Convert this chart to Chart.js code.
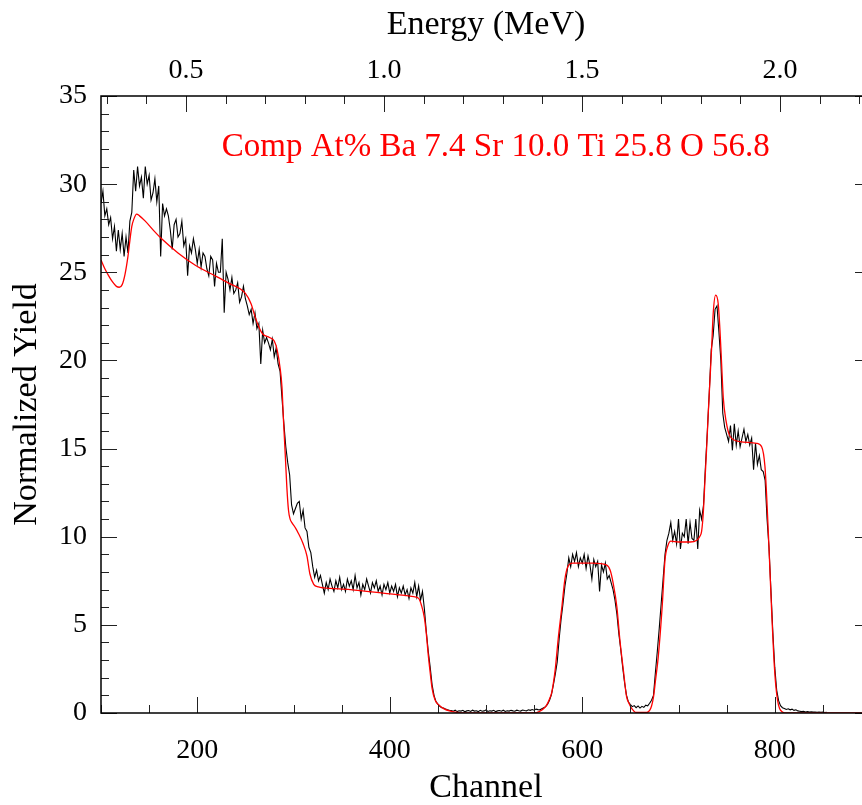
<!DOCTYPE html>
<html>
<head>
<meta charset="utf-8">
<title>RBS spectrum</title>
<script src="https://cdn.jsdelivr.net/npm/chart.js@4/dist/chart.umd.min.js"></script>
<style>
    html, body { margin: 0; padding: 0; background: #fff; }
    #wrap { width: 862px; height: 805px; overflow: hidden; }
</style>
</head>
<body>
<div id="wrap"><canvas id="spectrum" width="880" height="805"></canvas></div>
<script>
// Measured spectrum, one value every second channel starting at channel 100
const firstChannel = 100;
const channelStep = 2;
const measuredYield = [
    // 100
    28.9, 29.6, 28.2, 28.6, 27.7, 28.1, 26.9, 27.6, 26.2, 27.4, 26.3, 27.2, 25.9, 27.0, 26.1,
    // 130
    27.9, 28.4, 30.8, 29.6, 31.0, 29.9, 30.4, 29.2, 31.0, 30.0, 30.5, 29.1, 29.5, 30.3, 29.0, 29.9,
    // 162
    25.9, 28.9, 28.2, 28.6, 28.2, 27.4, 26.3, 27.7, 28.0, 27.0, 27.2, 27.9, 26.5, 26.9, 24.8, 26.5, 26.1, 26.9, 26.3,
    // 200
    25.5, 26.3, 25.3, 26.1, 25.9, 25.2, 24.8, 25.9, 25.7, 24.2, 25.5, 25.0, 25.0, 26.9, 22.7, 25.0, 24.6, 24.0, 24.7, 23.8,
    // 240
    24.0, 24.4, 23.3, 23.6, 24.2, 23.5, 23.1, 22.6, 22.9, 22.1, 22.7, 21.8, 22.1, 19.8, 21.7, 21.0, 21.3, 21.0, 20.6, 21.2,
    20.2, 20.7, 19.8, 19.4,
    // 288
    17.9, 16.4, 15.1, 14.2, 13.5, 11.8, 11.3, 11.6, 11.9, 12.0, 11.0, 11.5, 10.5, 10.3, 9.4, 9.1, 8.3, 7.7, 8.1, 7.5,
    7.8, 7.3,
    // 332
    6.8, 7.4, 7.0, 7.6, 7.2, 6.9, 7.5, 7.1, 7.7, 7.0,
    7.3, 6.9, 7.6, 7.2, 7.5, 7.0, 7.8, 7.1, 7.4, 6.7,
    7.3, 7.0, 7.6, 7.2, 6.8, 7.4, 7.1, 7.5, 6.9, 7.2,
    6.7, 7.3, 7.0, 7.4, 6.8, 7.2, 6.9, 7.3, 6.6, 7.1,
    6.8, 7.2, 6.7, 7.0, 6.5, 7.1, 6.8, 7.4, 6.6, 7.2,
    6.4,
    // 434
    6.9, 5.9, 4.6, 3.5, 2.6, 1.6, 1.0, 0.65, 0.50, 0.38, 0.30, 0.28, 0.22, 0.18, 0.15,
    // 464
    0.14, 0.10, 0.16, 0.08, 0.13, 0.11, 0.15, 0.07, 0.12, 0.14,
    0.09, 0.16, 0.11, 0.13, 0.08, 0.15, 0.10, 0.12, 0.17, 0.09,
    0.13, 0.11, 0.15, 0.08, 0.12, 0.14, 0.10, 0.16, 0.09, 0.13,
    0.11, 0.15, 0.12, 0.10, 0.16, 0.13, 0.11, 0.17, 0.14, 0.12,
    0.18, 0.15, 0.20, 0.16, 0.22, 0.19,
    // 556
    0.18, 0.24, 0.30, 0.36, 0.50, 0.72, 1.05, 1.6, 2.2, 2.9, 4.2, 5.3, 6.2, 7.2, 7.9, 8.8, 8.3, 9.0,
    // 592
    8.6, 9.1, 8.3, 8.8, 8.5, 9.0, 8.2, 8.9, 8.4, 7.6, 8.7, 8.3, 8.6, 6.9, 8.4, 8.0, 8.5, 7.6, 7.8,
    // 630
    7.4, 7.0, 6.4, 5.6, 4.5, 3.6, 2.6, 1.7, 1.0, 0.62,
    // 650
    0.48, 0.36, 0.42, 0.30, 0.40, 0.28, 0.38, 0.32, 0.44, 0.40, 0.55, 0.72, 1.0, 2.3, 3.5, 4.8, 6.2, 7.6, 9.0,
    // 688
    9.8, 10.2, 10.8, 9.8, 10.3, 9.6, 11.0, 9.3, 10.2, 10.0, 11.0, 9.6, 10.8, 9.9, 9.8, 11.0, 9.3, 11.5, 11.0,
    // 726
    11.8, 14.0, 16.0, 18.2, 20.6, 21.4, 22.9, 23.1, 21.6, 20.0, 17.0, 16.2, 15.8, 15.4, 16.3, 14.9, 16.4, 15.2, 16.0, 15.1,
    15.6, 16.1, 15.4, 15.8, 15.2, 15.6, 13.8, 15.3, 14.1, 14.6, 13.8, 13.7, 13.2, 11.0, 9.4, 7.0, 4.6, 2.6, 1.3, 0.7,
    // 806
    0.42, 0.30, 0.26, 0.20, 0.24, 0.18, 0.22, 0.15, 0.18, 0.12, 0.10, 0.08, 0.10, 0.06, 0.08, 0.05, 0.07, 0.05, 0.06, 0.04,
    0.06, 0.04, 0.05, 0.03, 0.04
];

// Simulated (fitted) spectrum
const fitChannels = [
    100, 104, 108, 112, 116, 119, 122, 125, 128, 130, 132, 134, 137, 140, 146, 155, 163, 180, 198, 215,
    232, 250, 256, 260, 264, 268, 275, 280, 283, 286, 288, 289.6, 291.4, 293.1, 294.8, 296.5, 298.3, 302, 305, 310,
    314, 317, 321, 326, 331, 359, 393, 425, 430, 433, 436, 438, 440, 442, 444, 447, 451, 456, 463, 470,
    480, 550, 556, 560, 563, 566, 568, 570, 572, 575, 579, 582, 585, 590, 611, 625, 629, 632, 636, 639,
    643, 646, 649, 651.5, 656, 667, 670, 672, 674, 676, 679, 683, 686, 689, 692, 700, 712, 719, 722, 724,
    725.7, 727.5, 729.3, 730.9, 732.7, 734.5, 736.1, 738.6, 741.3, 743.1, 744.8, 746.5, 749.3, 753.5, 763.8, 781.2, 786.4, 789.8, 791.6, 793.2,
    795, 797, 799, 801, 803, 805, 808, 812, 900
];
const fitYield = [
    25.7, 25.2, 24.8, 24.45, 24.2, 24.15, 24.3, 24.9, 25.9, 26.8, 27.6, 28.0, 28.3, 28.2, 27.9, 27.35, 26.9, 26.1, 25.4, 24.9,
    24.4, 23.8, 23.2, 22.5, 21.9, 21.5, 21.3, 21.1, 20.6, 19.6, 18.5, 16.6, 14.7, 12.8, 11.5, 11.0, 10.8, 10.5, 10.2, 9.6,
    8.9, 7.9, 7.3, 7.15, 7.1, 7.0, 6.8, 6.6, 6.5, 6.1, 5.4, 4.5, 3.3, 2.3, 1.4, 0.75, 0.45, 0.25, 0.1, 0.03,
    0, 0, 0.1, 0.25, 0.45, 0.8, 1.1, 1.7, 2.5, 4.2, 6.1, 7.6, 8.3, 8.5, 8.5, 8.4, 8.1, 7.4, 6.0, 4.2,
    2.3, 0.94, 0.5, 0.25, 0.03, 0.03, 0.15, 0.4, 0.9, 1.8, 3.2, 6.0, 8.7, 9.5, 9.75, 9.7, 9.7, 9.8, 10.0, 10.3,
    11.3, 13.2, 15.1, 17.0, 18.9, 20.8, 22.7, 23.7, 23.2, 21.7, 19.8, 17.9, 16.6, 15.7, 15.4, 15.3, 15.1, 14.0, 12.3, 10.4,
    8.1, 5.5, 3.2, 1.6, 0.7, 0.25, 0.06, 0, 0
];

// Axis ticks
const channelTicks = [200, 400, 600, 800];
const energyTicks = [0.5, 1.0, 1.5, 2.0];
const yieldTicks = [0, 5, 10, 15, 20, 25, 30, 35];
const channelMinor = 50;
const energyMinor = 0.1;
const yieldMinor = 1;

// Energy calibration (MeV per channel)
const energyGain = 0.0024307;
const energyOffset = 0.0423;
const channelRange = [100, 900];

const compositionNote = 'Comp At% Ba 7.4 Sr 10.0 Ti 25.8 O 56.8';

const serif = '"Liberation Serif", "Times New Roman", serif';

const measuredPoints = measuredYield.map((y, i) => ({ x: firstChannel + i * channelStep, y }));
const fitPoints = fitChannels.map((x, i) => ({ x, y: fitYield[i] }));

// Frame with inward tick marks on all four sides, plus the composition label
const frameTicks = {
    id: 'frameTicks',
    afterDatasetsDraw(chart) {
        const { ctx, chartArea: area, scales } = chart;
        const near = (v, list) => list.some(m => Math.abs(m - v) < 1e-6);
        const mark = (x1, y1, x2, y2) => {
            ctx.beginPath();
            ctx.moveTo(x1, y1);
            ctx.lineTo(x2, y2);
            ctx.stroke();
        };
        ctx.save();
        ctx.lineWidth = 1;
        ctx.strokeStyle = '#222';

        for (let v = channelRange[0]; v <= channelRange[1]; v += channelMinor) {
            const px = Math.round(scales.x.getPixelForValue(v)) + 0.5;
            mark(px, area.bottom, px, area.bottom - (near(v, channelTicks) ? 16 : 8));
        }

        const eMin = Math.ceil(scales.energy.min / energyMinor);
        const eMax = Math.floor(scales.energy.max / energyMinor);
        for (let i = eMin; i <= eMax; i++) {
            const v = i * energyMinor;
            const px = Math.round(scales.energy.getPixelForValue(v)) + 0.5;
            mark(px, area.top, px, area.top + (near(v, energyTicks) ? 16 : 8));
        }

        for (let v = 0; v <= 35; v += yieldMinor) {
            const py = Math.round(scales.y.getPixelForValue(v)) + 0.5;
            const len = near(v, yieldTicks) ? 16 : 8;
            mark(area.left, py, area.left + len, py);
            mark(area.right, py, area.right - len, py);
        }

        ctx.lineWidth = 1.5;
        ctx.strokeStyle = '#000';
        ctx.strokeRect(area.left, area.top, area.right - area.left, area.bottom - area.top);

        ctx.fillStyle = '#ff0000';
        ctx.font = '33px ' + serif;
        ctx.textBaseline = 'alphabetic';
        ctx.textAlign = 'left';
        ctx.fillText(compositionNote, scales.x.getPixelForValue(225.5), scales.y.getPixelForValue(31.6));
        ctx.restore();
    }
};

const tickFont = { family: serif, size: 28 };
const titleFont = { family: serif, size: 34, lineHeight: 1 };

new Chart(document.getElementById('spectrum'), {
    type: 'line',
    data: {
        datasets: [{
            label: 'Simulation',
            data: fitPoints,
            borderColor: '#ff0000',
            borderWidth: 1.3,
            pointRadius: 0,
            cubicInterpolationMode: 'monotone',
            fill: false
        }, {
            label: 'Measured',
            data: measuredPoints,
            borderColor: '#000000',
            borderWidth: 1.1,
            pointRadius: 0,
            tension: 0,
            fill: false
        }]
    },
    options: {
        responsive: false,
        animation: false,
        devicePixelRatio: 1,
        layout: { padding: { left: 0, right: 9, top: 0, bottom: 0 } },
        plugins: {
            legend: { display: false },
            tooltip: { enabled: false }
        },
        scales: {
            x: {
                type: 'linear',
                position: 'bottom',
                min: channelRange[0],
                max: channelRange[1],
                afterFit: s => { s.height = 92; },
                afterBuildTicks: s => { s.ticks = channelTicks.map(v => ({ value: v })); },
                grid: { display: false, drawTicks: false },
                border: { display: false },
                ticks: { font: tickFont, color: '#000', padding: 21, maxRotation: 0, autoSkip: false },
                title: { display: true, text: 'Channel', font: titleFont, color: '#000', padding: { top: 0, bottom: 0 } }
            },
            energy: {
                type: 'linear',
                position: 'top',
                min: energyOffset + energyGain * channelRange[0],
                max: energyOffset + energyGain * channelRange[1],
                afterFit: s => { s.height = 96; },
                afterBuildTicks: s => { s.ticks = energyTicks.map(v => ({ value: v })); },
                grid: { display: false, drawTicks: false },
                border: { display: false },
                ticks: { font: tickFont, color: '#000', padding: 9, maxRotation: 0, autoSkip: false,
                    callback: v => v.toFixed(1) },
                title: { display: true, text: 'Energy (MeV)', font: titleFont, color: '#000', padding: { top: 8, bottom: 0 } }
            },
            y: {
                type: 'linear',
                position: 'left',
                min: 0,
                max: 35,
                afterFit: s => { s.width = 101; },
                afterBuildTicks: s => { s.ticks = yieldTicks.map(v => ({ value: v })); },
                grid: { display: false, drawTicks: false },
                border: { display: false },
                ticks: { font: tickFont, color: '#000', padding: 14 },
                title: { display: true, text: 'Normalized Yield', font: titleFont, color: '#000', padding: { top: 10, bottom: 0 } }
            }
        }
    },
    plugins: [frameTicks]
});
</script>
</body>
</html>
